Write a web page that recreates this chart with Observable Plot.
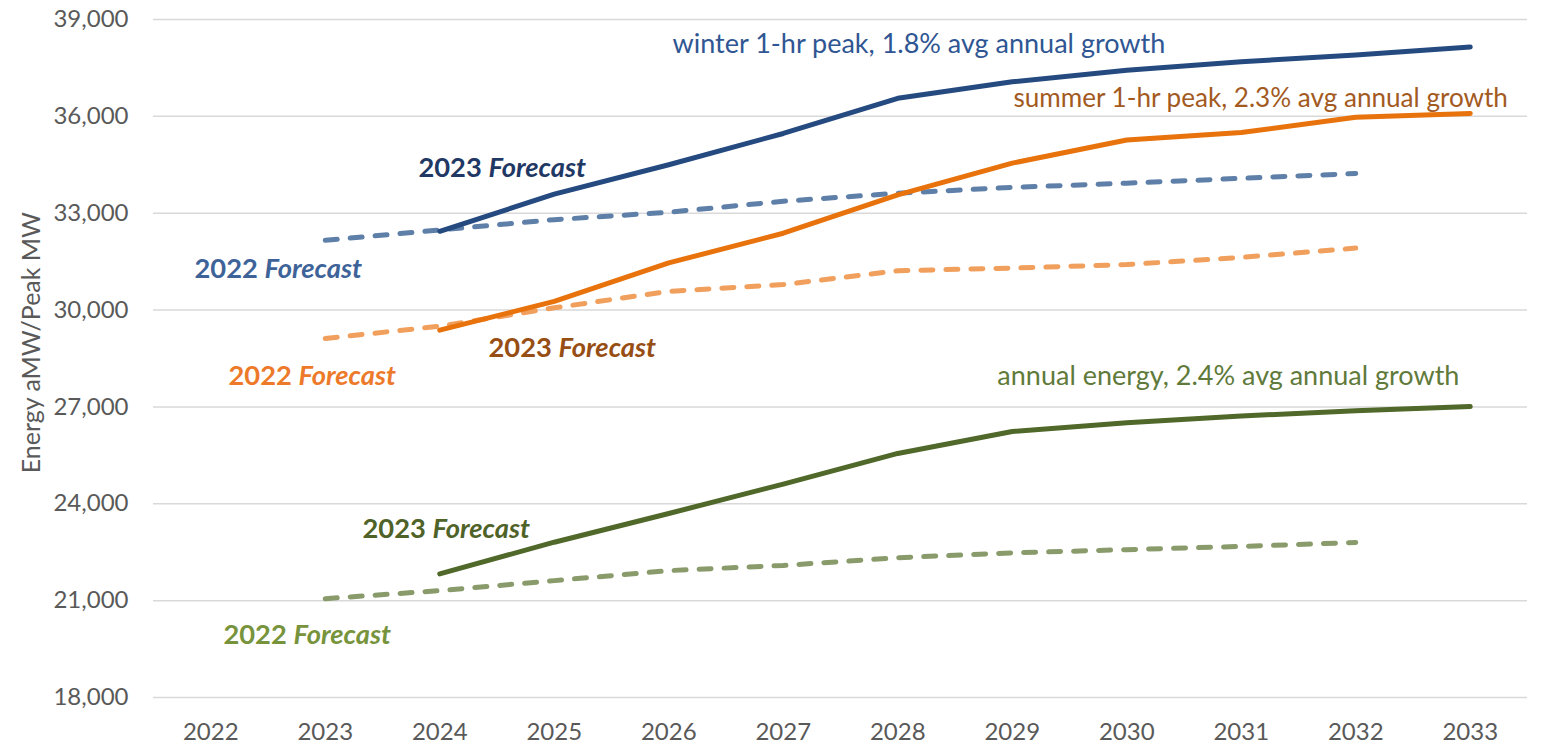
<!DOCTYPE html>
<html>
<head>
<meta charset="utf-8">
<script src="https://cdn.jsdelivr.net/npm/d3@7"></script>
<script src="https://cdn.jsdelivr.net/npm/@observablehq/plot@0.6"></script>
<style>
html, body { margin: 0; padding: 0; background: #ffffff; }
#chart svg { display: block; }
</style>
</head>
<body>
<div id="chart"></div>
<script>
// ---- data ----
const years = [2022, 2023, 2024, 2025, 2026, 2027, 2028, 2029, 2030, 2031, 2032, 2033];
const yTicks = [18000, 21000, 24000, 27000, 30000, 33000, 36000, 39000];

const winter2022 = [null, 32160, 32480, 32800, 33030, 33370, 33620, 33800, 33930, 34080, 34230, null];
const winter2023 = [null, null, 32440, 33590, 34500, 35470, 36560, 37070, 37430, 37690, 37900, 38150];
const summer2022 = [null, 29120, 29500, 30070, 30580, 30790, 31220, 31300, 31410, 31630, 31920, null];
const summer2023 = [null, null, 29380, 30270, 31460, 32380, 33570, 34550, 35270, 35500, 35970, 36090];
const energy2022 = [null, 21060, 21310, 21620, 21930, 22090, 22330, 22480, 22580, 22680, 22800, null];
const energy2023 = [null, null, 21830, 22810, 23700, 24610, 25560, 26240, 26510, 26720, 26880, 27010];

const yAxisTitle = "Energy aMW/Peak MW";

const labelTexts = [
  "winter 1-hr peak, 1.8% avg annual growth",
  "summer 1-hr peak, 2.3% avg annual growth",
  "annual energy, 2.4% avg annual growth",
  "2023 Forecast", "2022 Forecast",
  "2023 Forecast", "2022 Forecast",
  "2023 Forecast", "2022 Forecast"
];

// ---- styles / layout (kept apart from data) ----
const seriesStyles = [
  {values: winter2022, stroke: "#5E7FA8", dashed: true},
  {values: summer2022, stroke: "#F09F5C", dashed: true},
  {values: energy2022, stroke: "#8A9B6B", dashed: true},
  {values: winter2023, stroke: "#254A80", dashed: false},
  {values: summer2023, stroke: "#E8720C", dashed: false},
  {values: energy2023, stroke: "#50682A", dashed: false}
];

// annotation anchors in data units (year, MW)
const labelAnchors = [
  {x: 2026.033, y: 38245, color: "#2F5693", bold: false, size: 27},
  {x: 2029.01,  y: 36545, color: "#A35A1F", bold: false, size: 26.1},
  {x: 2028.87,  y: 27957, color: "#5F7A3A", bold: false, size: 27},
  {x: 2023.814, y: 34380, color: "#1F3864", bold: true, size: 27.3},
  {x: 2021.858, y: 31263, color: "#3E6399", bold: true, size: 27.3},
  {x: 2024.426, y: 28822, color: "#974E14", bold: true, size: 27.3},
  {x: 2022.155, y: 27957, color: "#ED7A2A", bold: true, size: 27.3},
  {x: 2023.325, y: 23199, color: "#4F6228", bold: true, size: 27.3},
  {x: 2022.111, y: 19925, color: "#77933C", bold: true, size: 27.3}
];
const titleAnchor = {x: 2020.435, y: 28990};

const toRows = (values) => years
  .map((year, i) => ({year, value: values[i]}))
  .filter(d => d.value != null);

const lineMarks = seriesStyles.map(s => Plot.line(toRows(s.values), {
  x: "year",
  y: "value",
  stroke: s.stroke,
  strokeWidth: 5,
  strokeLinecap: "round",
  strokeLinejoin: "round",
  strokeDasharray: s.dashed ? "12,13" : null
}));

const labelMarks = labelAnchors.map((a, i) => Plot.text([{x: a.x, y: a.y, text: labelTexts[i]}], {
  x: "x",
  y: "y",
  text: "text",
  fill: a.color,
  fontSize: a.size,
  fontWeight: a.bold ? "bold" : "normal",
  textAnchor: "start"
}));

const chart = Plot.plot({
  width: 1555,
  height: 745,
  marginLeft: 153,
  marginRight: 28,
  marginTop: 19,
  marginBottom: 48,
  style: {
    fontFamily: "Lato, 'Open Sans', sans-serif",
    fontSize: "24px",
    color: "#595959",
    background: "#ffffff"
  },
  x: {
    type: "linear",
    domain: [2021.5, 2033.5],
    ticks: years,
    tickFormat: d => String(d),
    tickSize: 0,
    tickPadding: 25,
    label: null
  },
  y: {
    domain: [18000, 39000],
    ticks: yTicks,
    tickFormat: d3.format(","),
    tickSize: 0,
    tickPadding: 25,
    label: null
  },
  marks: [
    Plot.ruleY(yTicks, {stroke: "#D9D9D9", strokeWidth: 1.5}),
    ...lineMarks,
    ...labelMarks,
    Plot.text([{x: titleAnchor.x, y: titleAnchor.y, text: yAxisTitle}], {
      x: "x",
      y: "y",
      text: "text",
      rotate: -90,
      fill: "#595959",
      fontSize: 25
    })
  ]
});

// italicise "Forecast" in the forecast labels
d3.select(chart).selectAll("text").each(function () {
  const m = this.textContent.match(/^(\d{4}) Forecast$/);
  if (m) {
    const el = d3.select(this);
    el.text(null);
    el.append("tspan").text(m[1] + " ");
    el.append("tspan").attr("font-style", "italic").text("Forecast");
  }
});

document.getElementById("chart").appendChild(chart);
</script>
</body>
</html>
